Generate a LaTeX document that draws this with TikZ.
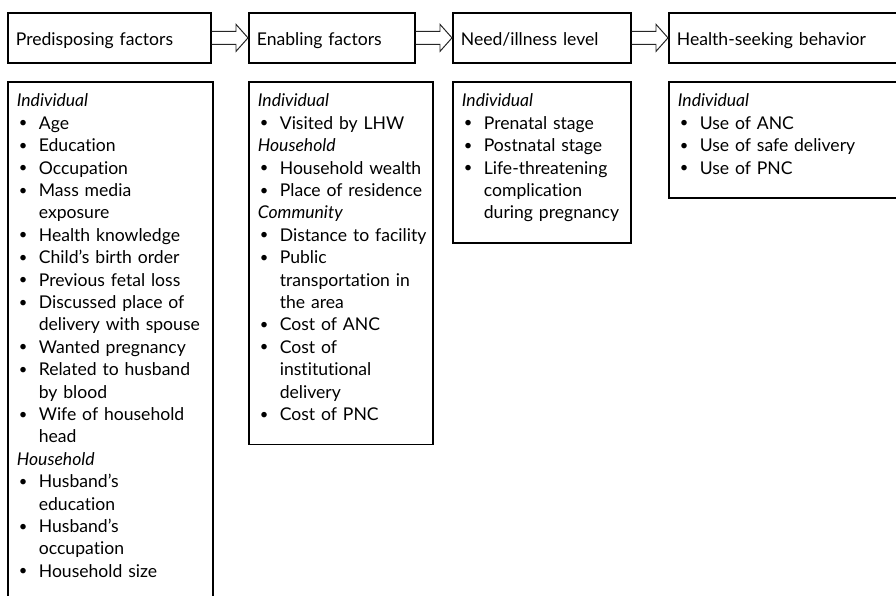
\documentclass[tikz,border=0pt]{standalone}
\usepackage{fontspec}
\setmainfont{Lato}[Ligatures=NoCommon]
\usetikzlibrary{calc}

% bullet line, continuation line, first and last line struts
\newcommand{\itm}[1]{\makebox[0.55cm][l]{\hspace{0.05cm}\raisebox{0.15ex}{\fontsize{10.5pt}{10.5pt}\selectfont\textbullet}}\mbox{#1}}
\newcommand{\cnt}[1]{\hspace*{0.55cm}\mbox{#1}}
\newcommand{\fst}{\rule{0pt}{0.625cm}}
\newcommand{\lst}{\rule[-0.6cm]{0pt}{0pt}}

\tikzset{
	headbox/.style={draw, line width=1.2pt, anchor=north west, minimum height=1.25cm,
		inner xsep=0.2cm, align=left, text height=0.4cm, text depth=0pt},
	listbox/.style={draw, line width=1.2pt, anchor=north west,
		inner xsep=0.225cm, inner ysep=0pt, align=left},
	hollow/.style={line width=0.7pt, black!85}
}

\begin{document}
\begin{tikzpicture}[x=0.025cm, y=-0.025cm, font=\fontsize{12.5pt}{15.93pt}\selectfont]
		\useasboundingbox (0, 0) rectangle (896, 595);

		% top row
		\node[headbox, text width=4.675cm]	(pre)	at (7, 12)		{Predisposing factors};
		\node[headbox, text width=3.75cm]	(ena)	at (248, 12)	{Enabling factors};
		\node[headbox, text width=4.05cm]	(need)	at (452, 12)	{Need/illness level};
		\node[headbox, text width=5.4cm]	(hsb)	at (668, 12)	{Health-seeking behavior};

		% block arrows
		\draw[hollow]	($(pre.east)+(0,-6.5)$) -- ($(ena.west)+(-12,-6.5)$) -- ($(ena.west)+(-12,-13.5)$) -- (ena.west)
						-- ($(ena.west)+(-12,13.5)$) -- ($(ena.west)+(-12,6.5)$) -- ($(pre.east)+(0,6.5)$);
		\draw[hollow]	($(ena.east)+(0,-6.5)$) -- ($(need.west)+(-12,-6.5)$) -- ($(need.west)+(-12,-13.5)$) -- (need.west)
						-- ($(need.west)+(-12,13.5)$) -- ($(need.west)+(-12,6.5)$) -- ($(ena.east)+(0,6.5)$);
		\draw[hollow]	($(need.east)+(0,-6.5)$) -- ($(hsb.west)+(-12,-6.5)$) -- ($(hsb.west)+(-12,-13.5)$) -- (hsb.west)
						-- ($(hsb.west)+(-12,13.5)$) -- ($(hsb.west)+(-12,6.5)$) -- ($(need.east)+(0,6.5)$);

		% lists
		\node[listbox, text width=4.675cm]	(prelist)	at (7, 81) {\fst\textit{Individual}\\
			\itm{Age}\\
			\itm{Education}\\
			\itm{Occupation}\\
			\itm{Mass media}\\
			\cnt{exposure}\\
			\itm{Health knowledge}\\
			\itm{Child’s birth order}\\
			\itm{Previous fetal loss}\\
			\itm{Discussed place of}\\
			\cnt{delivery with spouse}\\
			\itm{Wanted pregnancy}\\
			\itm{Related to husband}\\
			\cnt{by blood}\\
			\itm{Wife of household}\\
			\cnt{head}\\
			\textit{Household}\\
			\itm{Husband’s}\\
			\cnt{education}\\
			\itm{Husband’s}\\
			\cnt{occupation}\\
			\itm{Household size}\lst};

		\node[listbox, text width=4.15cm]	(enalist)	at (248, 81) {\fst\textit{Individual}\\
			\itm{Visited by LHW}\\
			\textit{Household}\\
			\itm{Household wealth}\\
			\itm{Place of residence}\\
			\textit{Community}\\
			\itm{Distance to facility}\\
			\itm{Public}\\
			\cnt{transportation in}\\
			\cnt{the area}\\
			\itm{Cost of ANC}\\
			\itm{Cost of}\\
			\cnt{institutional}\\
			\cnt{delivery}\\
			\itm{Cost of PNC}\lst};

		\node[listbox, text width=4.0cm]	(needlist)	at (452, 81) {\fst\textit{Individual}\\
			\itm{Prenatal stage}\\
			\itm{Postnatal stage}\\
			\itm{Life-threatening}\\
			\cnt{complication}\\
			\cnt{during pregnancy}\lst};

		\node[listbox, text width=5.35cm]	(hsblist)	at (668, 81) {\fst\textit{Individual}\\
			\itm{Use of ANC}\\
			\itm{Use of safe delivery}\\
			\itm{Use of PNC}\lst};
	\end{tikzpicture}
\end{document}
